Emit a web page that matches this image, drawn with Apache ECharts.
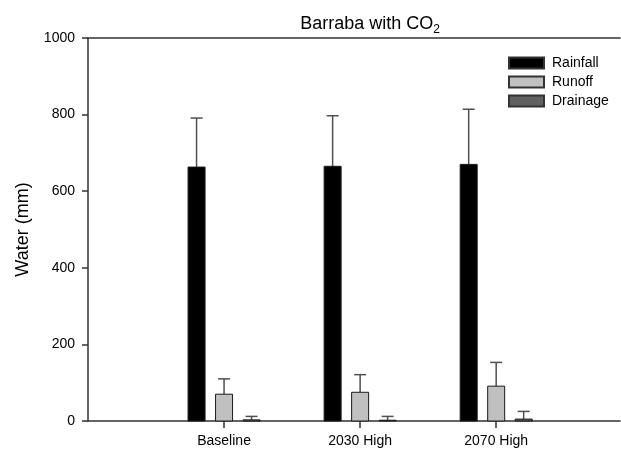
<!DOCTYPE html>
<html>
<head>
<meta charset="utf-8">
<script src="https://cdn.jsdelivr.net/npm/echarts@6/dist/echarts.min.js"></script>
<style>
  html, body { margin: 0; padding: 0; background: #fff; }
  #chart { width: 621px; height: 456px; }
</style>
</head>
<body>
<div id="chart"></div>
<script>
// Scenario names along the x axis
const categories = ['Baseline', '2030 High', '2070 High'];

// Mean seasonal water amounts (mm) and upper error (mm) per scenario
const rainfall = [663, 665, 670];
const rainfallErr = [128, 132, 144];
const runoff = [70, 75, 91];
const runoffErr = [40, 46, 62];
const drainage = [3, 2, 5];
const drainageErr = [9, 10, 20];

const yTicks = [0, 200, 400, 600, 800, 1000];

const seriesDefs = [
  { name: 'Rainfall', values: rainfall, errs: rainfallErr, color: '#000000', offset: -27.5 },
  { name: 'Runoff', values: runoff, errs: runoffErr, color: '#c0c0c0', offset: 0 },
  { name: 'Drainage', values: drainage, errs: drainageErr, color: '#606060', offset: 27.5 }
];

const BAR_W = 17;
const CAP_W = 12;
const FONT = 'Liberation Sans, Arial, sans-serif';

function makeRenderer(offset, color) {
  return function (params, api) {
    const x = api.value(0);
    const v = api.value(1);
    const e = api.value(2);
    const base = api.coord([x, 0]);
    const top = api.coord([x, v]);
    const errTop = api.coord([x, v + e]);
    const cx = base[0] + offset;
    return {
      type: 'group',
      children: [
        {
          type: 'line',
          shape: { x1: cx, y1: top[1], x2: cx, y2: errTop[1] },
          style: { stroke: '#505050', lineWidth: 1.5 }
        },
        {
          type: 'line',
          shape: { x1: cx - CAP_W / 2, y1: errTop[1], x2: cx + CAP_W / 2, y2: errTop[1] },
          style: { stroke: '#505050', lineWidth: 1.5 }
        },
        {
          type: 'rect',
          shape: { x: cx - BAR_W / 2, y: top[1], width: BAR_W, height: base[1] - top[1] },
          style: { fill: color, stroke: '#1a1a1a', lineWidth: 1 }
        }
      ]
    };
  };
}

const series = seriesDefs.map(function (s) {
  return {
    name: s.name,
    type: 'custom',
    renderItem: makeRenderer(s.offset, s.color),
    itemStyle: { color: s.color, borderColor: '#333', borderWidth: 1 },
    encode: { x: 0, y: 1 },
    data: s.values.map(function (v, i) { return [i + 1, v, s.errs[i]]; }),
    clip: false
  };
});

const chart = echarts.init(document.getElementById('chart'), null, { renderer: 'canvas' });
chart.setOption({
  animation: false,
  backgroundColor: '#ffffff',
  textStyle: { fontFamily: FONT },
  title: {
    text: '{t|Barraba with CO}{s|2}',
    left: 365,
    textAlign: 'center',
    top: 8,
    textStyle: {
      fontWeight: 'normal',
      rich: {
        t: { fontSize: 18, color: '#000', fontFamily: FONT, fontWeight: 'normal' },
        s: { fontSize: 12, color: '#000', fontFamily: FONT, fontWeight: 'normal', padding: [11, 0, 0, 0] }
      }
    }
  },
  legend: {
    orient: 'vertical',
    left: 503,
    top: 51,
    itemWidth: 35,
    itemHeight: 11,
    itemGap: 5,
    icon: 'rect',
    textStyle: { fontSize: 14, color: '#000', fontFamily: FONT, padding: [0, 0, 0, 3] },
    data: seriesDefs.map(function (s) { return s.name; })
  },
  grid: { left: 88, right: 1, top: 38, bottom: 35, containLabel: false },
  xAxis: [
    {
      type: 'value',
      min: 0,
      max: 3.91,
      interval: 1,
      splitLine: { show: false },
      axisLine: { show: true, lineStyle: { color: '#333', width: 1.5 } },
      axisTick: { show: true, length: 7, customValues: [1, 2, 3], lineStyle: { color: '#333', width: 1.5 } },
      axisLabel: {
        fontSize: 14,
        color: '#000',
        margin: 13,
        fontFamily: FONT,
        customValues: [1, 2, 3],
        formatter: function (v) { return categories[v - 1] || ''; }
      }
    },
    {
      type: 'value',
      position: 'top',
      min: 0,
      max: 3.91,
      splitLine: { show: false },
      axisLine: { show: true, lineStyle: { color: '#333', width: 1.5 } },
      axisTick: { show: false },
      axisLabel: { show: false }
    }
  ],
  yAxis: {
    type: 'value',
    min: yTicks[0],
    max: yTicks[yTicks.length - 1],
    interval: 200,
    name: 'Water (mm)',
    nameLocation: 'middle',
    nameGap: 56,
    nameTextStyle: { fontSize: 18, color: '#000', fontFamily: FONT },
    splitLine: { show: false },
    axisLine: { show: true, lineStyle: { color: '#333', width: 1.5 } },
    axisTick: { show: true, inside: false, length: 6, lineStyle: { color: '#333', width: 1.5 } },
    axisLabel: {
      fontSize: 14,
      color: '#000',
      margin: 13,
      fontFamily: FONT,
      formatter: function (v) { return String(v); }
    }
  },
  series: series
});
</script>
</body>
</html>
